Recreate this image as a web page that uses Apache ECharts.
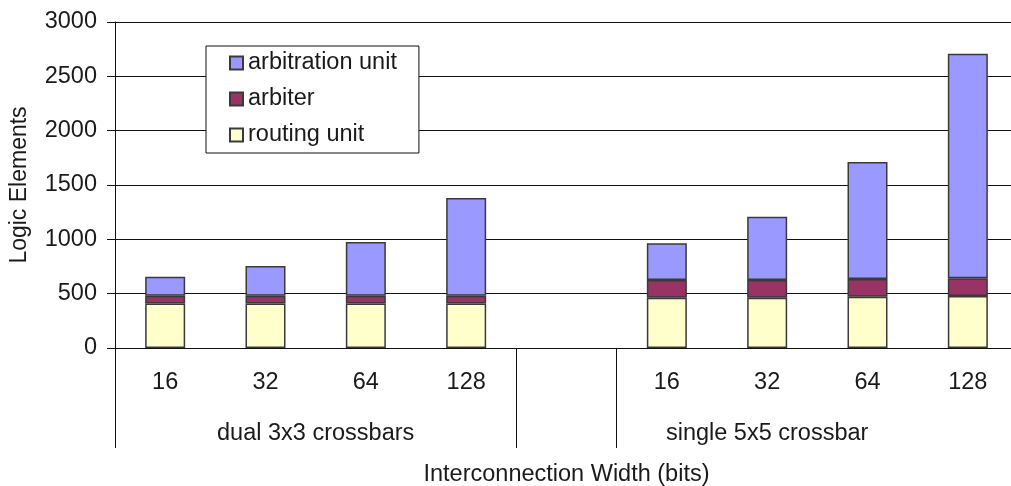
<!DOCTYPE html>
<html>
<head>
<meta charset="utf-8">
<title>Logic Elements</title>
<script src="https://cdn.jsdelivr.net/npm/echarts@6/dist/echarts.min.js"></script>
<style>
  html, body { margin: 0; padding: 0; background: #fff; }
  #chart { width: 1011px; height: 486px; }
</style>
</head>
<body>
<div id="chart"></div>
<script>
// categories (empty slot between the two groups)
const widths = ['16', '32', '64', '128', '', '16', '32', '64', '128']
const groups = ['dual 3x3 crossbars', 'single 5x5 crossbar']
const yTicks = [0, 500, 1000, 1500, 2000, 2500, 3000]

// stacked values
const routingUnit = [410, 410, 410, 410, null, 463, 463, 472, 478]
const arbiter = [70, 70, 70, 70, null, 163, 163, 163, 163]
const arbitrationUnit = [176, 274, 495, 900, null, 337, 582, 1076, 2066]

const font = 'Liberation Sans, Arial, Helvetica, sans-serif'
const ink = '#1a1a1a'
const fs = 23.5

const barBorder = {borderColor: '#3a3a3a', borderWidth: 1.5}

const option = {
  animation: false,
  textStyle: {fontFamily: font},
  // plot runs a little past the right edge, like the original
  grid: {left: 115, top: 22, width: 903, height: 326, outerBoundsMode: 'none'},
  legend: {
    orient: 'vertical',
    left: 206,
    top: 46,
    padding: [5, 22, 6, 23],
    itemGap: 12,
    itemWidth: 13,
    itemHeight: 13,
    backgroundColor: '#fff',
    borderColor: '#111',
    borderWidth: 1,
    icon: 'rect',
    textStyle: {fontSize: fs, color: ink, fontFamily: font, lineHeight: 24},
    data: ['arbitration unit', 'arbiter', 'routing unit']
  },
  xAxis: [
    {
      type: 'category',
      data: widths,
      position: 'bottom',
      axisLine: {lineStyle: {color: '#111', width: 1}},
      axisTick: {interval: 0, length: 51, lineStyle: {color: '#111'}},
      axisLabel: {interval: 0, margin: 23, fontSize: fs, color: ink, fontFamily: font},
      splitLine: {show: false}
    },
    {
      // second row: group names under the widths
      type: 'value',
      min: 0,
      max: 9,
      position: 'bottom',
      axisLine: {show: false},
      axisTick: {show: true, customValues: [0, 4, 5, 9], length: 100, lineStyle: {color: '#111'}},
      axisLabel: {
        customValues: [2, 6.5],
        margin: 74,
        fontSize: fs,
        color: ink,
        fontFamily: font,
        formatter: v => (v === 2 ? groups[0] : groups[1])
      },
      splitLine: {show: false},
      name: 'Interconnection Width (bits)',
      nameLocation: 'middle',
      nameGap: 115,
      nameTextStyle: {fontSize: fs, color: ink, fontFamily: font}
    }
  ],
  yAxis: {
    type: 'value',
    min: yTicks[0],
    max: yTicks[yTicks.length - 1],
    interval: 500,
    name: 'Logic Elements',
    nameLocation: 'middle',
    nameGap: 84,
    nameTextStyle: {fontSize: 23, color: ink, fontFamily: font},
    axisLine: {show: true, lineStyle: {color: '#111', width: 1}},
    axisTick: {show: true, length: 8, lineStyle: {color: '#111'}},
    axisLabel: {margin: 18, fontSize: fs, color: ink, fontFamily: font, formatter: v => String(v)},
    splitLine: {lineStyle: {color: '#111', width: 1.2}}
  },
  series: [
    {
      name: 'routing unit',
      type: 'bar',
      stack: 'le',
      barWidth: 40,
      data: routingUnit,
      itemStyle: {color: '#ffffcc', ...barBorder}
    },
    {
      name: 'arbiter',
      type: 'bar',
      stack: 'le',
      barWidth: 40,
      data: arbiter,
      itemStyle: {color: '#993366', ...barBorder}
    },
    {
      name: 'arbitration unit',
      type: 'bar',
      stack: 'le',
      barWidth: 40,
      data: arbitrationUnit,
      itemStyle: {color: '#9999ff', ...barBorder}
    }
  ]
}

const chart = echarts.init(document.getElementById('chart'))
chart.setOption(option)
window.addEventListener('resize', () => chart.resize())
</script>
</body>
</html>
